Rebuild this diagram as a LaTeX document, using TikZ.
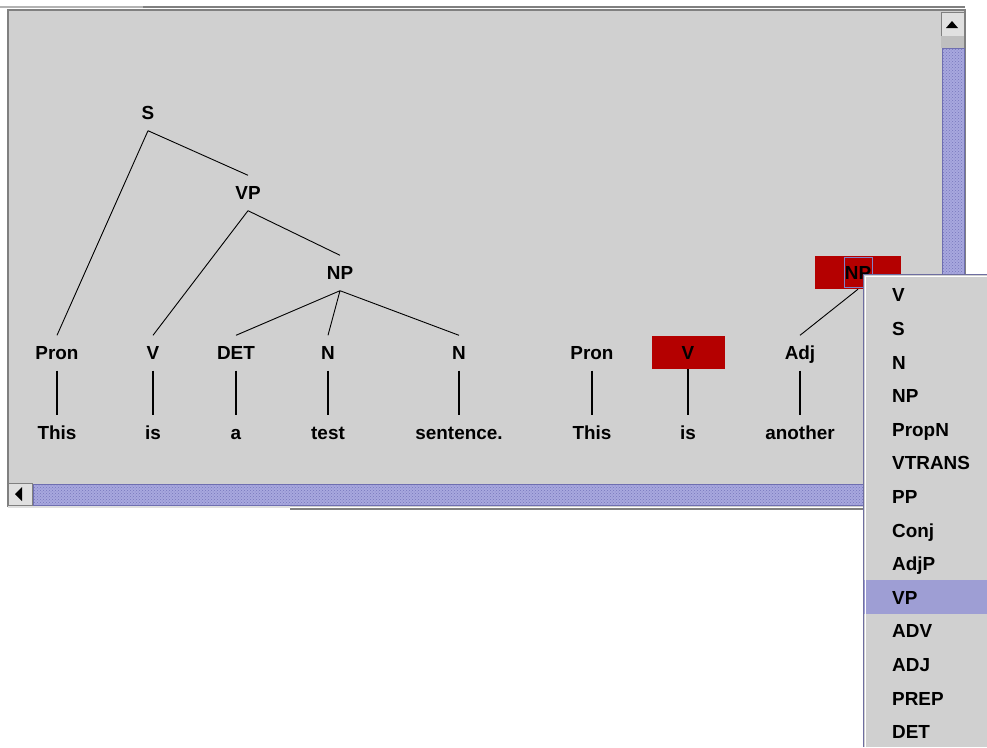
\documentclass[tikz,border=0pt]{standalone}
\usepackage{fontspec}
\setmainfont{Liberation Sans}
\usepackage{tikz}
\usepackage{xcolor}
\usetikzlibrary{positioning, patterns, calc}

\definecolor{panelgray}{RGB}{208,208,208}
\definecolor{framegray}{RGB}{128,128,128}
\definecolor{buttongray}{RGB}{224,224,224}
\definecolor{thumbfill}{RGB}{168,168,222}
\definecolor{thumbdot}{RGB}{118,118,188}
\definecolor{thumbedge}{RGB}{110,110,176}
\definecolor{selred}{RGB}{180,0,0}
\definecolor{focusblue}{RGB}{130,130,200}
\definecolor{menuhigh}{RGB}{158,158,212}
\definecolor{menuedge}{RGB}{110,110,160}

\begin{document}
\begin{tikzpicture}[x=1pt, y=-1pt,
    tag/.style={inner sep=0pt, minimum height=35pt, text height=13.6pt, text depth=0pt,
                font=\fontsize{18.9}{20}\selectfont\bfseries},
    selbox/.style={tag, fill=selred, minimum height=33pt},
    item/.style={anchor=west, inner sep=0pt, text height=13.6pt, text depth=0pt,
                 font=\fontsize{18.9}{20}\selectfont\bfseries},
    thumb/.style={fill=thumbfill, draw=thumbedge, line width=1pt}]
\useasboundingbox (0,0) rectangle (987,747);
\fill[white] (0,0) rectangle (987,747);

% window
\fill[panelgray] (8,10) rectangle (965,507);
\draw[line width=1.5pt, buttongray!80!black] (0,7) -- (143,7);
\draw[line width=1.5pt, framegray] (143,7) -- (965,7);
\draw[line width=1.5pt, framegray] (8,507) -- (8,10) -- (965,10) -- (965,507);
\draw[line width=1.5pt, buttongray] (8,507) -- (290,507);
\draw[line width=1.5pt, framegray] (290,509) -- (965,509);

% scrollbars
\fill[buttongray] (941,12) rectangle (964,36);
\draw[framegray] (941,12) rectangle (964,36);
\fill (946,28) -- (958,28) -- (952,21) -- cycle;
\fill[panelgray!92!black] (941,36) rectangle (964,48);
\draw[thumb] (942,48) rectangle (964,482);
\fill[pattern=crosshatch dots, pattern color=thumbdot] (943,49) rectangle (963,481);
\fill[buttongray] (8,483) rectangle (32,505);
\draw[framegray] (8,483) rectangle (32,505);
\fill (15,494) -- (22,487) -- (22,501) -- cycle;
\draw[thumb] (33,484) rectangle (940,505);
\fill[pattern=crosshatch dots, pattern color=thumbdot] (34,485) rectangle (939,504);

% first tree
\node[tag] (s) at (148,113) {S};
\node[tag] (vp) at (248,193) {VP};
\node[tag] (np) at (340,273) {NP};
\node[tag] (pron1) at (57,353) {Pron};
\node[tag] (v1) at (153,353) {V};
\node[tag] (det) at (236,353) {DET};
\node[tag] (n1) at (328,353) {N};
\node[tag] (n2) at (459,353) {N};
\node[tag] (this1) at (57,433) {This};
\node[tag] (is1) at (153,433) {is};
\node[tag] (a) at (236,433) {a};
\node[tag] (test) at (328,433) {test};
\node[tag] (sentence) at (459,433) {sentence.};

% second tree
\node[tag] (pron2) at (592,353) {Pron};
\node[selbox, minimum width=73pt] (v2) at (688,352.5) {V};
\node[tag] (adj) at (800,353) {Adj};
\node[selbox, minimum width=86pt] (np2) at (858,272.5) {NP};
\node[draw=focusblue, line width=1pt, minimum width=28pt, minimum height=30pt] (focus) at (np2) {};
\node[tag] (this2) at (592,433) {This};
\node[tag] (is2) at (688,433) {is};
\node[tag] (another) at (800,433) {another};

\draw[line width=0.9pt]
(s.south) -- (pron1.north)
(s.south) -- (vp.north)
(vp.south) -- (v1.north)
(vp.south) -- (np.north)
(np.south) -- (det.north)
(np.south) -- (n1.north)
(np.south) -- (n2.north)
(np2.south) -- (adj.north);
\draw[line width=1.3pt]
(pron1.south) -- (this1.north)
(v1.south) -- (is1.north)
(det.south) -- (a.north)
(n1.south) -- (test.north)
(n2.south) -- (sentence.north)
(pron2.south) -- (this2.north)
(v2.south) -- (is2.north)
(adj.south) -- (another.north);

% popup menu
\fill[panelgray] (863,274) rectangle (987,747);
\fill[menuhigh] (864,580) rectangle (987,614);
\draw[line width=1.5pt, menuedge] (863.5,747) -- (863.5,274.5) -- (987,274.5);
\draw[line width=1pt, white] (865.5,747) -- (865.5,276.5) -- (987,276.5);
\foreach \lab [count=\i from 0] in {V,S,N,NP,PropN,VTRANS,PP,Conj,AdjP,VP,ADV,ADJ,PREP,DET}
  \node[item] (m\i) at (892,{295+33.6*\i}) {\lab};
\end{tikzpicture}
\end{document}
